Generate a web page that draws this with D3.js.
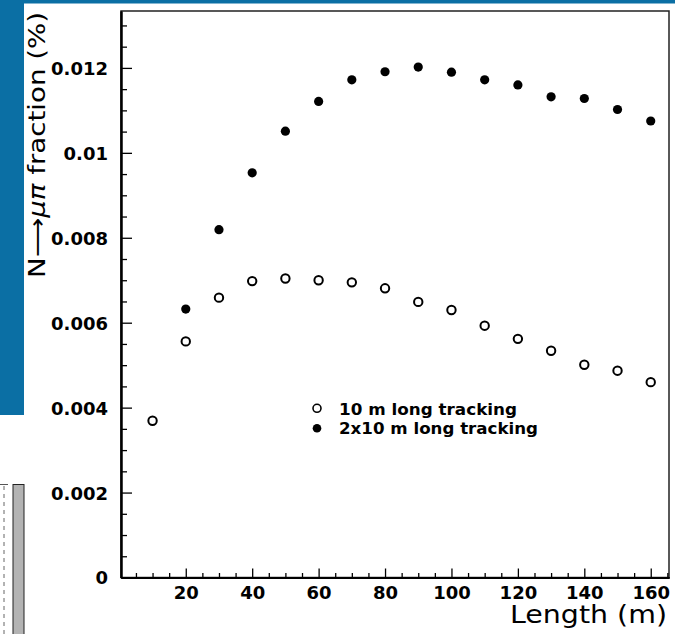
<!DOCTYPE html>
<html>
<head>
<meta charset="utf-8">
<script src="https://cdn.jsdelivr.net/npm/d3@7"></script>
<style>
  html, body { margin: 0; padding: 0; background: #fff; }
  svg { display: block; }
  text { font-family: "DejaVu Sans", sans-serif; fill: #000; }
</style>
</head>
<body>
<svg id="chart" width="675" height="634"></svg>
<script>
// ---- data ----
const lengthsSingle = [10, 20, 30, 40, 50, 60, 70, 80, 90, 100, 110, 120, 130, 140, 150, 160];
const fracSingle = [0.00369, 0.00556, 0.00659, 0.00698, 0.00704, 0.00700, 0.00695, 0.00681,
                    0.00649, 0.00630, 0.00593, 0.00562, 0.00534, 0.00501, 0.00487, 0.00460];
const lengthsDouble = [20, 30, 40, 50, 60, 70, 80, 90, 100, 110, 120, 130, 140, 150, 160];
const fracDouble = [0.00632, 0.00819, 0.00953, 0.01051, 0.01121, 0.01172, 0.01191, 0.01202,
                    0.01190, 0.01172, 0.01160, 0.01132, 0.01128, 0.01102, 0.01075];
const xTickValues = [20, 40, 60, 80, 100, 120, 140, 160];
const yTickValues = [0, 0.002, 0.004, 0.006, 0.008, 0.01, 0.012];
const yTickLabels = ["0", "0.002", "0.004", "0.006", "0.008", "0.01", "0.012"];
const legendLabels = ["10 m long tracking", "2x10 m long tracking"];
const xTitle = "Length (m)";

const svg = d3.select("#chart");

// ---- page decorations ----
svg.append("rect").attr("x", 0).attr("y", 0).attr("width", 675).attr("height", 3.5).attr("fill", "#0b6fa4");
svg.append("rect").attr("x", 0).attr("y", 0).attr("width", 24).attr("height", 415).attr("fill", "#0b6fa4");
svg.append("rect").attr("x", 13).attr("y", 484.5).attr("width", 11).attr("height", 160)
   .attr("fill", "#b3b3b3").attr("stroke", "#222").attr("stroke-width", 1);
svg.append("line").attr("x1", 0).attr("x2", 8).attr("y1", 484.5).attr("y2", 484.5)
   .attr("stroke", "#555").attr("stroke-width", 1);
svg.append("line").attr("x1", 4).attr("x2", 4).attr("y1", 486).attr("y2", 634)
   .attr("stroke", "#666").attr("stroke-width", 1).attr("stroke-dasharray", "4,4");

// ---- scales ----
const x = d3.scaleLinear().domain([0.5, 165.5]).range([121, 669]);
const y = d3.scaleLinear().domain([0, 0.01334]).range([577.5, 11]);

// frame
svg.append("rect").attr("x", 121).attr("y", 11).attr("width", 548).attr("height", 566.5)
   .attr("fill", "none").attr("stroke", "#222").attr("stroke-width", 1.5);

// minor ticks
const xMinor = d3.range(5, 166, 5).filter(v => v % 20 !== 0);
const yMinor = d3.range(0.0005, 0.01334, 0.0005).filter(v => Math.abs(v / 0.002 - Math.round(v / 0.002)) > 1e-6);

const gxMinor = svg.append("g").attr("transform", "translate(0,577.5)")
  .call(d3.axisBottom(x).tickValues(xMinor).tickSizeInner(-4.5).tickSizeOuter(0).tickFormat(""));
const gyMinor = svg.append("g").attr("transform", "translate(121,0)")
  .call(d3.axisLeft(y).tickValues(yMinor).tickSizeInner(-6).tickSizeOuter(0).tickFormat(""));

// major axes
const gx = svg.append("g").attr("transform", "translate(0,577.5)")
  .call(d3.axisBottom(x).tickValues(xTickValues).tickSizeInner(-9).tickSizeOuter(0).tickPadding(0));
gx.selectAll("text").attr("y", 21.5).attr("dy", 0)
  .style("font-size", "18px").style("font-weight", "bold");

const gy = svg.append("g").attr("transform", "translate(121,0)")
  .call(d3.axisLeft(y).tickValues(yTickValues).tickSizeInner(-11).tickSizeOuter(0).tickPadding(13)
        .tickFormat((d, i) => yTickLabels[i]));
gy.selectAll("text").style("font-size", "18px").style("font-weight", "bold").attr("dy", "0.36em");

[gx, gy, gxMinor, gyMinor].forEach(g => {
  g.select(".domain").attr("stroke", "#000").attr("stroke-width", 2);
  g.selectAll(".tick line").attr("stroke", "#000").attr("stroke-width", 1.3);
});

// ---- data marks ----
svg.append("g").selectAll("circle").data(lengthsSingle.map((l, i) => [l, fracSingle[i]]))
  .join("circle")
  .attr("cx", d => x(d[0])).attr("cy", d => y(d[1])).attr("r", 4.2)
  .attr("fill", "#fff").attr("stroke", "#000").attr("stroke-width", 2);

svg.append("g").selectAll("circle").data(lengthsDouble.map((l, i) => [l, fracDouble[i]]))
  .join("circle")
  .attr("cx", d => x(d[0])).attr("cy", d => y(d[1])).attr("r", 4.6)
  .attr("fill", "#000");

// ---- legend ----
const leg = svg.append("g");
leg.append("circle").attr("cx", 317).attr("cy", 408.3).attr("r", 4).attr("fill", "#fff")
   .attr("stroke", "#000").attr("stroke-width", 1.6);
leg.append("circle").attr("cx", 317).attr("cy", 428.3).attr("r", 4.3).attr("fill", "#000");
leg.append("text").attr("x", 339).attr("y", 415).style("font-size", "16.5px").style("font-weight", "bold")
   .attr("textLength", 178).attr("lengthAdjust", "spacingAndGlyphs").text(legendLabels[0]);
leg.append("text").attr("x", 339).attr("y", 434).style("font-size", "16.5px").style("font-weight", "bold")
   .attr("textLength", 199).attr("lengthAdjust", "spacingAndGlyphs").text(legendLabels[1]);

// ---- titles ----
svg.append("text").attr("x", 667).attr("y", 623).attr("text-anchor", "end")
  .attr("textLength", 157).attr("lengthAdjust", "spacingAndGlyphs")
  .style("font-size", "24px").text(xTitle);

const yt = svg.append("text").attr("transform", "translate(45,278) rotate(-90)")
  .attr("textLength", 266).attr("lengthAdjust", "spacingAndGlyphs")
  .style("font-size", "23px");
yt.append("tspan").text("N\u27F6");
yt.append("tspan").style("font-style", "italic").text("\u03BC\u03C0");
yt.append("tspan").text(" fraction (%)");
</script>
</body>
</html>
